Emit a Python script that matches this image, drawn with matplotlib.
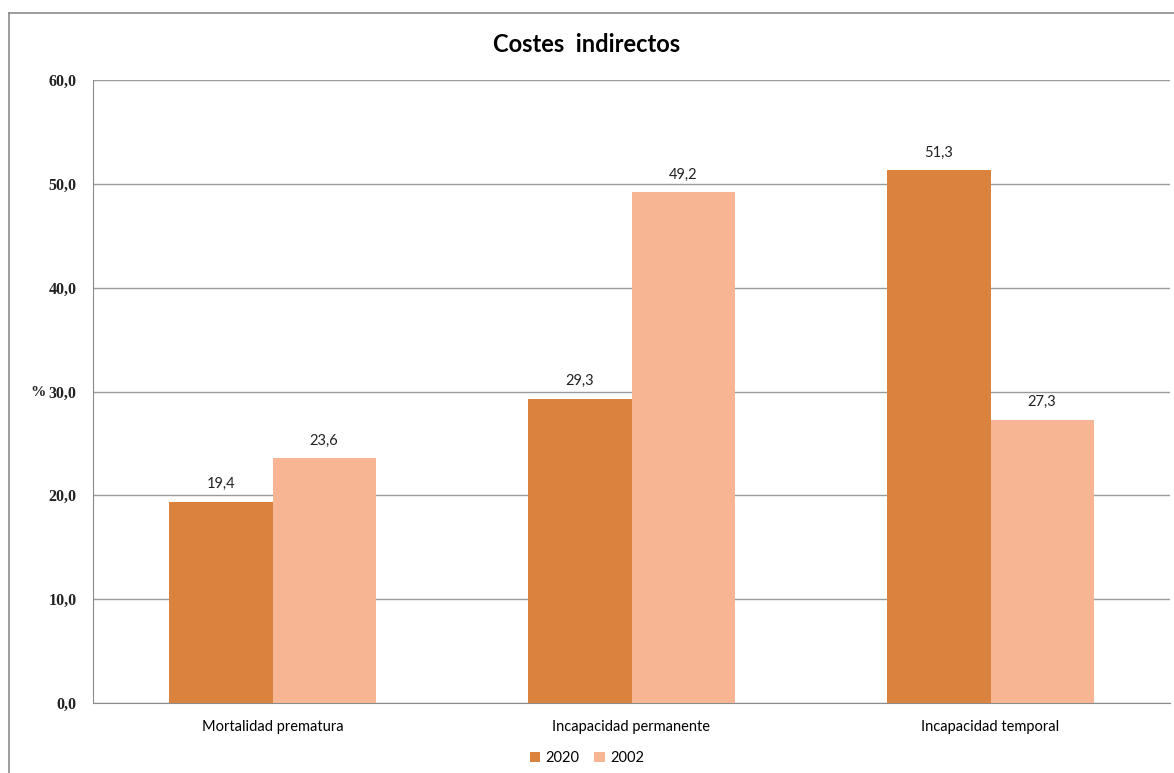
import matplotlib.pyplot as plt
import numpy as np
from matplotlib.lines import Line2D

categorias = ['Mortalidad prematura', 'Incapacidad permanente', 'Incapacidad temporal']
v2020 = [19.4, 29.3, 51.3]
v2002 = [23.6, 49.2, 27.3]
yticks = [0, 10, 20, 30, 40, 50, 60]

c2020 = '#D9833F'
c2002 = '#F7B593'

plt.rcParams['font.family'] = ['Lato', 'DejaVu Sans']

fig = plt.figure(figsize=(11.74, 7.73), dpi=100)
# marco de la figura (solo izquierda y arriba se ven)
fy = 1 - 13 / 773
fx = 9 / 1174
fig.add_artist(Line2D([fx, fx], [0, fy], transform=fig.transFigure,
                      color='#8c8c8c', linewidth=1.2))
fig.add_artist(Line2D([fx, 1], [fy, fy], transform=fig.transFigure,
                      color='#8c8c8c', linewidth=1.2))

ax = fig.add_axes([93 / 1174, 70 / 773, (1170 - 93) / 1174, (703 - 80) / 773])

x = np.arange(len(categorias))
w = 0.287
b1 = ax.bar(x - w / 2, v2020, w, color=c2020, label='2020', zorder=3)
b2 = ax.bar(x + w / 2, v2002, w, color=c2002, label='2002', zorder=3)

for bars in (b1, b2):
    for r in bars:
        ax.text(r.get_x() + r.get_width() / 2, r.get_height() + 1.0,
                f'{r.get_height():.1f}'.replace('.', ','),
                ha='center', va='bottom', fontsize=10.5, color='#222222')

ax.set_xlim(-0.5, 2.5)
ax.set_ylim(0, 60)
ax.set_yticks(yticks)
ax.set_yticklabels([f'{v:.1f}'.replace('.', ',') for v in yticks],
                   fontsize=11.5, fontweight='bold', family='Liberation Serif',
                   color='#222222')
ax.set_xticks(x)
ax.set_xticklabels(categorias, fontsize=10.5)
ax.tick_params(length=0, pad=12)
ax.tick_params(axis='x', pad=12)
ax.yaxis.grid(True, color='#9a9a9a', linewidth=1, zorder=0)
for s in ('top', 'right'):
    ax.spines[s].set_visible(False)
ax.spines['left'].set_color('#8c8c8c')
ax.spines['bottom'].set_color('#8c8c8c')

fig.text(30 / 1174, 1 - 392 / 773, '%', fontsize=11, fontweight='bold',
         family='Liberation Serif', ha='left', va='center', color='#222222')

fig.text(0.5, 1 - 45 / 773, 'Costes  indirectos', fontsize=17, fontweight='bold',
         ha='center', va='center')

ax.legend(loc='center', bbox_to_anchor=(587 / 1174, 1 - 758 / 773),
          bbox_transform=fig.transFigure, ncol=2, frameon=False, fontsize=10.5,
          handlelength=0.7, handleheight=0.7, handletextpad=0.4, columnspacing=1.0)

fig.savefig('out.png', dpi=100)
